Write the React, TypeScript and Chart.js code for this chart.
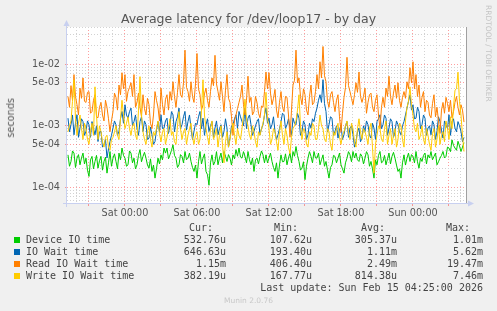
import { useEffect, useRef } from 'react';
import { Chart, registerables } from 'chart.js';

Chart.register(...registerables);

// ---- time axis (hours relative to Sat 00:00) ----
const START_HOUR = -4.75;
const STEP_HOUR = 0.125;
const X_MIN = -4.833;
const X_MAX = 28.417;

// ---- series values, microseconds ----
const deviceIOTime = [
  337, 220, 263, 390, 360, 210, 298, 340, 232, 300, 360, 240, 298, 190, 150, 280, 318, 200, 263, 330, 205, 270, 318, 190, 263, 310, 170, 250, 382, 220, 298, 350, 263, 200, 360, 280, 435, 330, 298, 220, 232, 390, 360, 250, 298, 200, 232, 330, 410, 260, 318, 370, 298, 230, 205, 290, 181, 230, 141, 200, 298, 240, 337, 280, 435, 360,
  435, 290, 337, 400, 490, 330, 298, 210, 232, 340, 318, 250, 382, 280, 298, 360, 263, 210, 181, 230, 141, 260, 382, 240, 298, 350, 181, 160, 108, 250, 337, 230, 263, 380, 232, 300, 360, 250, 382, 320, 263, 340, 298, 230, 337, 290, 410, 320, 435, 310, 298, 380, 318, 250, 382, 280, 232, 300, 181, 280, 298, 240, 318, 390, 337, 250,
  337, 250, 298, 360, 263, 210, 181, 250, 141, 230, 337, 260, 263, 350, 232, 300, 360, 250, 382, 320, 460, 330, 263, 190, 205, 260, 133, 220, 298, 380, 318, 250, 382, 300, 298, 360, 232, 280, 337, 220, 263, 190, 141, 210, 232, 330, 318, 250, 298, 360, 232, 200, 170, 250, 298, 380, 337, 260, 382, 300, 360, 280, 263, 350, 318, 240,
  298, 380, 337, 220, 263, 200, 141, 280, 232, 330, 382, 250, 263, 330, 232, 290, 360, 240, 318, 370, 298, 230, 181, 200, 141, 250, 337, 230, 298, 360, 263, 340, 318, 250, 382, 260, 205, 300, 263, 330, 360, 240, 337, 300, 382, 280, 318, 360, 232, 260, 298, 330, 382, 300, 318, 450, 435, 380, 590, 480, 435, 400, 560, 470, 382, 450, 533,
];
const ioWaitTime = [
  1330, 800, 1040, 1500, 714, 1100, 1510, 650, 917, 1300, 1170, 700, 808, 1200, 1040, 650, 1170, 900, 714, 1000, 555, 800, 808, 450, 490, 600, 300, 420, 555, 700, 917, 1200, 1040, 700, 808, 1300, 1710, 1100, 2200, 1500, 1330, 1700, 1940, 1000, 1170, 1500, 917, 700, 1170, 1400, 808, 1200, 1040, 600, 630, 950, 714, 500, 555, 850, 1170, 800, 1510, 900, 917, 1200,
  1330, 750, 1040, 1700, 1510, 800, 1170, 1400, 1940, 900, 1040, 1400, 1710, 850, 1170, 1500, 917, 600, 808, 1100, 1040, 1400, 1710, 900, 1330, 700, 1040, 1300, 808, 1000, 1170, 650, 917, 1200, 714, 900, 1040, 650, 808, 1300, 917, 450, 630, 1000, 1040, 1300, 1510, 900, 1710, 1400, 1170, 1000, 1940, 900, 1330, 1500, 1040, 700, 808, 1000, 1170, 1300, 714, 900, 1040, 1500,
  1940, 1100, 1330, 900, 1040, 1400, 808, 600, 714, 900, 1170, 1600, 1510, 900, 1040, 1300, 917, 700, 1330, 1100, 1040, 1600, 1330, 700, 808, 1200, 1040, 600, 714, 1100, 917, 1300, 1170, 1600, 1940, 2600, 3200, 2400, 5620, 2300, 1710, 800, 1040, 1400, 1330, 700, 808, 1000, 630, 850, 1040, 600, 714, 1000, 1170, 650, 917, 1000, 714, 450, 555, 800, 917, 550, 630, 1000,
  808, 1200, 1040, 700, 630, 1100, 917, 600, 1170, 1300, 1510, 900, 1040, 1500, 1330, 700, 917, 1300, 1170, 650, 808, 1200, 1040, 800, 714, 1000, 1170, 1500, 1940, 2500, 3200, 1800, 2200, 1300, 1330, 2000, 1710, 900, 1040, 1500, 1330, 700, 917, 1000, 714, 1200, 1040, 600, 808, 1400, 1170, 850, 630, 1200, 1040, 900, 1510, 700, 1170, 1300, 917, 800, 1170, 1000, 808, 550, 647,
];
const readIOWaitTime = [
  3000, 2000, 4500, 2600, 6800, 3000, 2200, 1500, 4100, 2800, 6000, 2500, 2400, 3500, 3600, 1600, 1700, 2600, 3200, 1400, 1350, 2000, 2400, 1500, 1200, 2600, 2000, 1300, 800, 1200, 1700, 3400, 2900, 1800, 4600, 3200, 7300, 4000, 6800, 2500, 3600, 4200, 5000, 3000, 6800, 2000, 2400, 3400, 2000, 1400, 3200, 1900, 1500, 2800, 2200, 1100, 900, 1500, 3600, 2600, 2000, 1200, 4100, 2200, 1500, 2700,
  3200, 1800, 3600, 2600, 5200, 3000, 2000, 3500, 6800, 3200, 2900, 5000, 17000, 4200, 3600, 2500, 5200, 3000, 2400, 4800, 15000, 4000, 3200, 1800, 2200, 3300, 4100, 2600, 2000, 3600, 6000, 4500, 14000, 4800, 3600, 2600, 5200, 3000, 1700, 3800, 6800, 2800, 2400, 1400, 700, 1200, 1500, 1900, 2400, 3000, 4600, 2200, 1500, 2600, 6400, 2400, 2900, 1500, 1700, 3000, 2400, 1600, 1350, 2100, 2000, 3600,
  7500, 4000, 7300, 3400, 2200, 2800, 3900, 1800, 1350, 2400, 3600, 2000, 1700, 3000, 2900, 1500, 650, 1800, 4600, 5500, 17000, 5000, 6000, 3000, 2200, 4000, 3200, 1800, 1500, 3000, 4600, 2200, 2400, 3600, 6800, 4000, 11000, 6000, 19470, 6500, 5200, 2500, 2000, 3200, 3600, 2400, 1700, 2600, 3200, 1400, 800, 1600, 2900, 4200, 13000, 4500, 3600, 2800, 2200, 3200, 5000, 3500, 7500, 3000, 2400, 3000,
  4100, 1600, 2400, 3200, 3400, 2000, 1700, 2600, 3200, 1500, 900, 2000, 2900, 2000, 4100, 3000, 6400, 3000, 2200, 3400, 4600, 2800, 5000, 2600, 2000, 2900, 3600, 2800, 5200, 4000, 8800, 5000, 11000, 4000, 6800, 3000, 4600, 2000, 2900, 3600, 1700, 2600, 2400, 1500, 1350, 2300, 3200, 1400, 2000, 1200, 750, 1800, 2400, 1600, 2900, 2300, 1700, 2600, 1350, 1700, 2400, 3000, 2000, 1500, 2200, 1800, 1150,
];
const writeIOWaitTime = [
  800, 1000, 1200, 2500, 5600, 1300, 700, 1100, 1500, 900, 600, 1100, 900, 600, 500, 800, 1100, 700, 4300, 1500, 600, 1000, 800, 550, 450, 650, 700, 450, 400, 600, 650, 800, 1000, 700, 600, 1300, 2600, 1500, 900, 1100, 1400, 900, 700, 1000, 1100, 700, 600, 1800, 6300, 1500, 800, 600, 500, 800, 1000, 600, 450, 800, 700, 900, 1200, 750, 550, 800, 900, 500,
  650, 900, 1300, 700, 800, 550, 500, 1000, 1700, 900, 600, 800, 900, 500, 700, 900, 1100, 650, 500, 700, 800, 500, 600, 1800, 5600, 1500, 900, 650, 500, 900, 1200, 600, 700, 900, 450, 700, 1000, 500, 250, 550, 800, 450, 600, 850, 1100, 700, 500, 900, 700, 600, 900, 1500, 2700, 1300, 1000, 700, 600, 1000, 800, 550, 450, 800, 700, 900, 1100, 1500,
  3500, 1300, 900, 500, 600, 900, 800, 550, 400, 800, 1200, 700, 500, 900, 700, 450, 350, 650, 900, 1000, 1200, 1800, 3200, 1000, 600, 900, 800, 500, 450, 800, 700, 1100, 1000, 600, 600, 900, 1500, 1000, 900, 600, 550, 900, 800, 500, 400, 800, 700, 900, 1100, 650, 500, 700, 800, 1000, 1200, 800, 600, 1100, 900, 550, 450, 900, 1300, 800, 600, 900,
  800, 650, 500, 900, 1100, 450, 170, 500, 700, 1000, 900, 600, 550, 900, 1200, 500, 700, 900, 500, 700, 900, 450, 600, 1100, 1000, 600, 450, 1200, 2000, 2500, 4300, 2200, 1500, 900, 800, 1100, 600, 700, 1000, 600, 500, 900, 700, 500, 400, 750, 900, 450, 600, 1000, 500, 700, 800, 550, 1200, 900, 600, 1400, 900, 2000, 3800, 4000, 7460, 2500, 1500, 700, 382,
];

// ---- ticks ----
const xTickHours = [0, 6, 12, 18, 24];
const xTickLabels = ['Sat 00:00', 'Sat 06:00', 'Sat 12:00', 'Sat 18:00', 'Sun 00:00'];
const yTickValues = [1e-4, 5e-4, 1e-3, 5e-3, 1e-2];
const yTickLabels = ['1e-04', '5e-04', '1e-03', '5e-03', '1e-02'];
const Y_MIN = 5.555e-5;
const Y_MAX = 0.04041;

// ---- legend ----
const seriesNames = ['Device IO time', 'IO Wait time', 'Read IO Wait time', 'Write IO Wait time'];
const seriesColors = ['#00cc00', '#0066b3', '#ff8000', '#ffcc00'];
const curValues = ['532.76u', '646.63u', '1.15m', '382.19u'];
const minValues = ['107.62u', '193.40u', '406.40u', '167.77u'];
const avgValues = ['305.37u', '1.11m', '2.49m', '814.38u'];
const maxValues = ['1.01m', '5.62m', '19.47m', '7.46m'];
const seriesData = [deviceIOTime, ioWaitTime, readIOWaitTime, writeIOWaitTime];

const RED_GRID = 'rgba(255, 0, 0, 0.38)';
const GREY_GRID = '#d2d2d2';
const SANS = "'DejaVu Sans', sans-serif";
const MONO = "'DejaVu Sans Mono', monospace";

const mantissa = (v: number) => {
  const e = Math.floor(Math.log10(v) + 1e-9);
  return Math.round(v / Math.pow(10, e));
};

const muninPlugin = {
  id: 'muninFrame',
  beforeDraw(chart: any) {
    const { ctx, chartArea: a } = chart;
    ctx.save();
    ctx.fillStyle = '#f0f0f0';
    ctx.fillRect(0, 0, chart.width, chart.height);
    ctx.fillStyle = '#ffffff';
    ctx.fillRect(a.left, a.top, a.right - a.left, a.bottom - a.top);
    ctx.restore();
  },
  afterDraw(chart: any) {
    const { ctx, chartArea: a } = chart;
    ctx.save();
    ctx.strokeStyle = '#a0a0a0';
    ctx.lineWidth = 1;
    ctx.beginPath();
    ctx.moveTo(Math.round(a.right) + 0.5, a.top);
    ctx.lineTo(Math.round(a.right) + 0.5, a.bottom);
    ctx.stroke();
    const axisColor = '#c8d0f0';
    ctx.strokeStyle = axisColor;
    ctx.fillStyle = axisColor;
    const lx = Math.round(a.left) - 0.5;
    const by = Math.round(a.bottom) + 0.5;
    ctx.beginPath();
    ctx.moveTo(lx, a.bottom + 4);
    ctx.lineTo(lx, a.top - 2);
    ctx.stroke();
    ctx.beginPath();
    ctx.moveTo(lx - 3, a.top - 1);
    ctx.lineTo(lx + 3, a.top - 1);
    ctx.lineTo(lx, a.top - 7);
    ctx.closePath();
    ctx.fill();
    ctx.beginPath();
    ctx.moveTo(a.left - 4, by);
    ctx.lineTo(a.right + 3, by);
    ctx.stroke();
    ctx.beginPath();
    ctx.moveTo(a.right + 2, by - 3);
    ctx.lineTo(a.right + 2, by + 3);
    ctx.lineTo(a.right + 8, by);
    ctx.closePath();
    ctx.fill();
    ctx.restore();
  },
};

export default function App() {
  const ref = useRef<HTMLCanvasElement>(null);

  useEffect(() => {
    if (!ref.current) return;
    const orders = [4, 3, 2, 1];
    const chart = new Chart(ref.current, {
      type: 'line',
      data: {
        datasets: seriesData.map((arr, s) => ({
          label: seriesNames[s],
          data: arr.map((v, i) => ({ x: START_HOUR + i * STEP_HOUR, y: v / 1e6 })),
          borderColor: seriesColors[s],
          backgroundColor: seriesColors[s],
          borderWidth: 1,
          pointRadius: 0,
          tension: 0,
          fill: false,
          order: orders[s],
        })),
      },
      options: {
        animation: false,
        responsive: false,
        devicePixelRatio: 1,
        events: [],
        layout: { padding: { top: 27, right: 31, left: 0, bottom: 0 } },
        plugins: {
          legend: { display: false },
          title: { display: false },
          tooltip: { enabled: false },
        },
        scales: {
          x: {
            type: 'linear',
            min: X_MIN,
            max: X_MAX,
            afterBuildTicks: (scale: any) => {
              const t = [];
              for (let h = Math.ceil(X_MIN); h <= Math.floor(X_MAX); h++) t.push({ value: h });
              scale.ticks = t;
            },
            afterFit: (scale: any) => {
              scale.height = 108;
            },
            ticks: {
              autoSkip: false,
              maxRotation: 0,
              minRotation: 0,
              padding: 2,
              color: '#555555',
              font: { family: SANS, size: 9.7 },
              callback: (value: any) => {
                const idx = xTickHours.indexOf(Math.round(Number(value)));
                return idx >= 0 && Math.abs(Number(value) - xTickHours[idx]) < 1e-6 ? xTickLabels[idx] : '';
              },
            },
            grid: {
              color: (ctx: any) => (Math.round(ctx.tick.value) % 3 === 0 ? RED_GRID : GREY_GRID),
              tickColor: (ctx: any) => (Math.round(ctx.tick.value) % 3 === 0 ? RED_GRID : 'rgba(0,0,0,0)'),
              tickLength: 3,
              lineWidth: 1,
            },
            border: { display: false, dash: [1, 2] },
          },
          y: {
            type: 'logarithmic',
            min: Y_MIN,
            max: Y_MAX,
            afterBuildTicks: (scale: any) => {
              const t = [];
              for (let e = -5; e <= -1; e++) {
                for (let m = 1; m <= 9; m++) {
                  const v = m * Math.pow(10, e);
                  if (v >= Y_MIN && v <= Y_MAX) t.push({ value: v });
                }
              }
              scale.ticks = t;
            },
            afterFit: (scale: any) => {
              scale.width = 67;
            },
            ticks: {
              autoSkip: false,
              padding: 5,
              color: '#555555',
              font: { family: SANS, size: 9.7 },
              callback: (value: any) => {
                const v = Number(value);
                for (let k = 0; k < yTickValues.length; k++) {
                  if (Math.abs(v - yTickValues[k]) / yTickValues[k] < 1e-6) return yTickLabels[k];
                }
                return '';
              },
            },
            grid: {
              color: (ctx: any) => {
                const m = mantissa(ctx.tick.value);
                return m === 1 || m === 5 ? RED_GRID : GREY_GRID;
              },
              tickColor: (ctx: any) => {
                const m = mantissa(ctx.tick.value);
                return m === 1 || m === 5 ? RED_GRID : 'rgba(0,0,0,0)';
              },
              tickLength: 2,
              lineWidth: 1,
            },
            border: { display: false, dash: [1, 2] },
          },
        },
      } as any,
      plugins: [muninPlugin],
    });
    return () => chart.destroy();
  }, []);

  const rowTop = (r: number) => 234 + r * 12;
  const cell = (text: string, right: number, top: number, key: string) => (
    <span key={key} style={{ position: 'absolute', right: 497 - right, top, whiteSpace: 'pre', textAlign: 'right' }}>
      {text}
    </span>
  );

  return (
    <div
      style={{
        position: 'absolute',
        left: 0,
        top: 0,
        width: 497,
        height: 311,
        background: '#f0f0f0',
        overflow: 'hidden',
      }}
    >
      <canvas ref={ref} width={497} height={311} style={{ position: 'absolute', left: 0, top: 0, width: 497, height: 311 }} />
      <div
        style={{
          position: 'absolute',
          left: 0,
          top: 11,
          width: 497,
          textAlign: 'center',
          fontFamily: SANS,
          fontSize: 12.5,
          lineHeight: '15px',
          color: '#555555',
          whiteSpace: 'nowrap',
        }}
      >
        Average latency for /dev/loop17 - by day
      </div>
      <div
        style={{
          position: 'absolute',
          left: 5,
          top: 98,
          writingMode: 'vertical-rl',
          transform: 'rotate(180deg)',
          fontFamily: SANS,
          fontSize: 9.7,
          lineHeight: '12px',
          color: '#555555',
          whiteSpace: 'nowrap',
        }}
      >
        seconds
      </div>
      <div
        style={{
          position: 'absolute',
          left: 483.5,
          top: 5,
          writingMode: 'vertical-rl',
          fontFamily: SANS,
          fontSize: 7.5,
          lineHeight: '9px',
          color: '#c4c4c4',
          whiteSpace: 'nowrap',
        }}
      >
        RRDTOOL / TOBI OETIKER
      </div>
      <div style={{ position: 'absolute', left: 0, top: 0, width: 497, height: 311, fontFamily: MONO, fontSize: 10, lineHeight: '12px', color: '#444444' }}>
        {cell('Cur:', 213, 222, 'hc')}
        {cell('Min:', 298, 222, 'hm')}
        {cell('Avg:', 385, 222, 'ha')}
        {cell('Max:', 470, 222, 'hx')}
        {seriesNames.map((name, r) => (
          <div key={name}>
            <span
              style={{
                position: 'absolute',
                left: 14,
                top: rowTop(r) + 3,
                width: 6,
                height: 6,
                background: seriesColors[r],
              }}
            />
            <span style={{ position: 'absolute', left: 26, top: rowTop(r), whiteSpace: 'pre' }}>{name}</span>
            {cell(curValues[r], 226, rowTop(r), 'c' + r)}
            {cell(minValues[r], 312, rowTop(r), 'm' + r)}
            {cell(avgValues[r], 397, rowTop(r), 'a' + r)}
            {cell(maxValues[r], 483, rowTop(r), 'x' + r)}
          </div>
        ))}
        {cell('Last update: Sun Feb 15 04:25:00 2026', 483, 282, 'lu')}
      </div>
      <div
        style={{
          position: 'absolute',
          left: 0,
          top: 296,
          width: 497,
          textAlign: 'center',
          fontFamily: SANS,
          fontSize: 7.5,
          lineHeight: '9px',
          color: '#c8c8c8',
          whiteSpace: 'nowrap',
        }}
      >
        Munin 2.0.76
      </div>
    </div>
  );
}
